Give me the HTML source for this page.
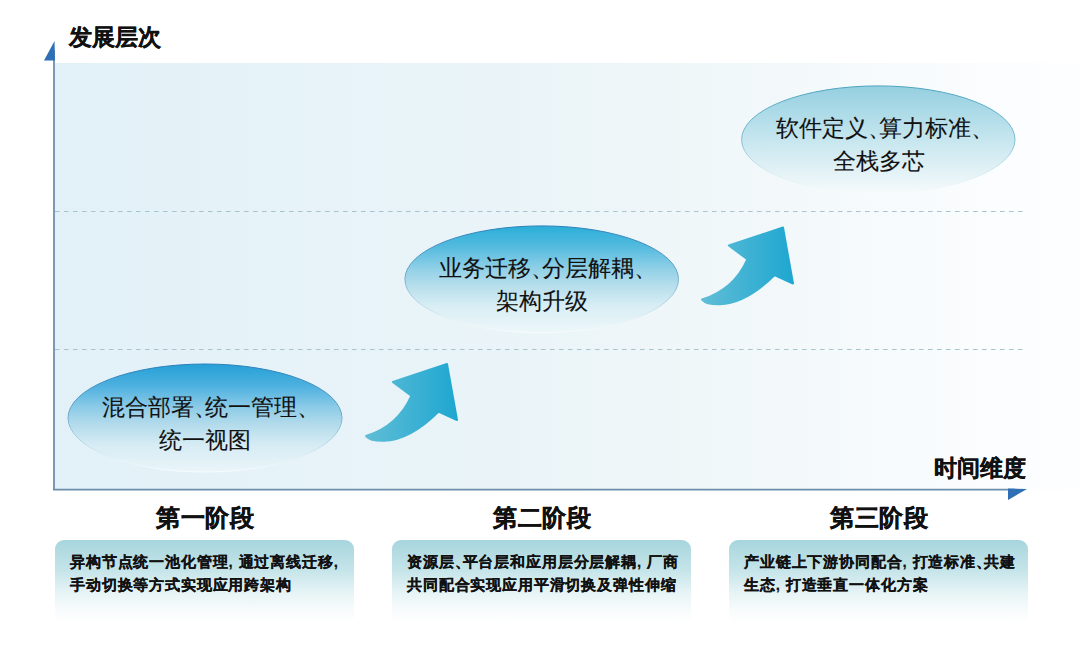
<!DOCTYPE html>
<html><head><meta charset="utf-8">
<style>
html,body{margin:0;padding:0;background:#fff;}
body{width:1080px;height:657px;position:relative;overflow:hidden;font-family:"Liberation Sans",sans-serif;color:#111;}
.abs{position:absolute;}
.plot{left:55px;top:63px;width:1025px;height:426px;background:linear-gradient(90deg,#e2f1f8 0%,#e7f3f8 28%,#ecf5f8 52%,#f4f9fb 75%,#fbfdfe 92%,#fdfeff 100%);}
.ttl{font-weight:bold;font-size:23px;-webkit-text-stroke:0.3px #111;line-height:1;white-space:nowrap;}
.etxt{font-size:23px;-webkit-text-stroke:0.1px #111;line-height:33px;text-align:center;white-space:nowrap;color:#111;}
.stage{font-weight:bold;font-size:24px;letter-spacing:0.5px;-webkit-text-stroke:0.4px #111;line-height:1;text-align:center;width:300px;white-space:nowrap;}
.box{top:540px;width:299px;height:84px;border-radius:9px;background:linear-gradient(180deg,#a7d5dd 0%,#c4e4e9 35%,#e6f3f5 62%,#f7fbfc 82%,#ffffff 100%);}
.btxt{font-weight:bold;font-size:15px;letter-spacing:0.85px;-webkit-text-stroke:0.2px #111;line-height:23px;white-space:nowrap;}
.btxt i{font-style:normal;letter-spacing:-7px;}
.etxt i{font-style:normal;letter-spacing:-11.5px;}
</style></head>
<body>
<div class="abs plot"></div>

<svg class="abs" style="left:0;top:0" width="1080" height="657" viewBox="0 0 1080 657">
  <defs>
    <linearGradient id="e1" x1="0" y1="0" x2="0" y2="1">
      <stop offset="0" stop-color="#26a0d6"/>
      <stop offset="0.2" stop-color="#4cb0df"/>
      <stop offset="0.4" stop-color="#8ccbe7"/>
      <stop offset="0.55" stop-color="#b1daeb"/>
      <stop offset="0.75" stop-color="#d6ecf4"/>
      <stop offset="1" stop-color="#eaf5f9"/>
    </linearGradient>
    <linearGradient id="e2" x1="0" y1="0" x2="0" y2="1">
      <stop offset="0" stop-color="#2aaed8"/>
      <stop offset="0.2" stop-color="#55bbdf"/>
      <stop offset="0.4" stop-color="#90d0e7"/>
      <stop offset="0.55" stop-color="#b4ddeb"/>
      <stop offset="0.75" stop-color="#d8eef4"/>
      <stop offset="1" stop-color="#eef7fa"/>
    </linearGradient>
    <linearGradient id="e3" x1="0" y1="0" x2="0" y2="1">
      <stop offset="0" stop-color="#95cfe0"/>
      <stop offset="0.3" stop-color="#b2dde9"/>
      <stop offset="0.55" stop-color="#cbe8f0"/>
      <stop offset="0.8" stop-color="#e3f2f6"/>
      <stop offset="1" stop-color="#f5fafc"/>
    </linearGradient>
    <linearGradient id="s1" x1="0" y1="0" x2="0" y2="1">
      <stop offset="0" stop-color="#2a7fba"/>
      <stop offset="0.45" stop-color="#6aa6c8"/>
      <stop offset="0.7" stop-color="#b0d3e3"/>
      <stop offset="0.88" stop-color="#e6f2f6"/>
      <stop offset="1" stop-color="#f7fbfd"/>
    </linearGradient>
    <linearGradient id="s3" x1="0" y1="0" x2="0" y2="1">
      <stop offset="0" stop-color="#4aa3c0"/>
      <stop offset="0.5" stop-color="#7dbcd0"/>
      <stop offset="0.8" stop-color="#d8ecf2"/>
      <stop offset="1" stop-color="#f7fbfd"/>
    </linearGradient>
    <linearGradient id="ar" x1="0" y1="0" x2="1" y2="0">
      <stop offset="0" stop-color="#60bdd6"/>
      <stop offset="1" stop-color="#1ea7d1"/>
    </linearGradient>
  </defs>
  <line x1="55" y1="211.5" x2="1027" y2="211.5" stroke="#a9c3cf" stroke-width="1.2" stroke-dasharray="4.6,4.4"/>
  <line x1="55" y1="349.5" x2="1027" y2="349.5" stroke="#a9c3cf" stroke-width="1.2" stroke-dasharray="4.6,4.4"/>
  <!-- axes -->
  <line x1="54" y1="50" x2="54" y2="490" stroke="#6d8eab" stroke-width="1.8"/>
  <polygon points="54.5,41 44,60.5 55,60.5" fill="#2f6fb5"/>
  <line x1="53" y1="489.6" x2="1015" y2="489.6" stroke="#6d8eab" stroke-width="1.8"/>
  <polygon points="1008,488.5 1027,489 1008,500" fill="#2f6fb5"/>
  <!-- ellipses -->
  <ellipse cx="205" cy="418" rx="137" ry="54" fill="url(#e1)" stroke="url(#s1)" stroke-width="1"/>
  <ellipse cx="541.7" cy="279.3" rx="136.8" ry="53.4" fill="url(#e2)" stroke="url(#s1)" stroke-width="1"/>
  <ellipse cx="878.3" cy="139.6" rx="136.7" ry="53.7" fill="url(#e3)" stroke="url(#s3)" stroke-width="1"/>
  <!-- arrows -->
  <g id="arr">
  <path d="M366,436 C385,430 401,419 411.3,395.8 L392.8,382 L447,364 L457,420 L438.4,411.7 C425,425 405,440 384,440.8 C376,441 369,439.5 366,436 Z" fill="url(#ar)" stroke="url(#ar)" stroke-width="2" stroke-linejoin="round"/>
  </g>
  <use href="#arr" x="336" y="-136.5"/>
</svg>

<div class="abs ttl" style="left:69px;top:26px">发展层次</div>
<div class="abs ttl" style="left:934px;top:457px">时间维度</div>

<div class="abs etxt" style="left:55px;top:391px;width:300px">混合部署<i>、</i>统一管理<i>、</i><br>统一视图</div>
<div class="abs etxt" style="left:392px;top:252px;width:300px">业务迁移<i>、</i>分层解耦<i>、</i><br>架构升级</div>
<div class="abs etxt" style="left:729px;top:112px;width:300px">软件定义<i>、</i>算力标准<i>、</i><br>全栈多芯</div>

<div class="abs stage" style="left:55px;top:506px">第一阶段</div>
<div class="abs stage" style="left:392px;top:506px">第二阶段</div>
<div class="abs stage" style="left:729px;top:506px">第三阶段</div>

<div class="abs box" style="left:55px"></div>
<div class="abs box" style="left:392px"></div>
<div class="abs box" style="left:729px"></div>

<div class="abs btxt" style="left:70px;top:550px">异构节点统一池化管理, 通过离线迁移,<br>手动切换等方式实现应用跨架构</div>
<div class="abs btxt" style="left:407px;top:550px">资源层<i>、</i>平台层和应用层分层解耦, 厂商<br>共同配合实现应用平滑切换及弹性伸缩</div>
<div class="abs btxt" style="left:744px;top:550px">产业链上下游协同配合, 打造标准<i>、</i>共建<br>生态, 打造垂直一体化方案</div>
</body></html>
